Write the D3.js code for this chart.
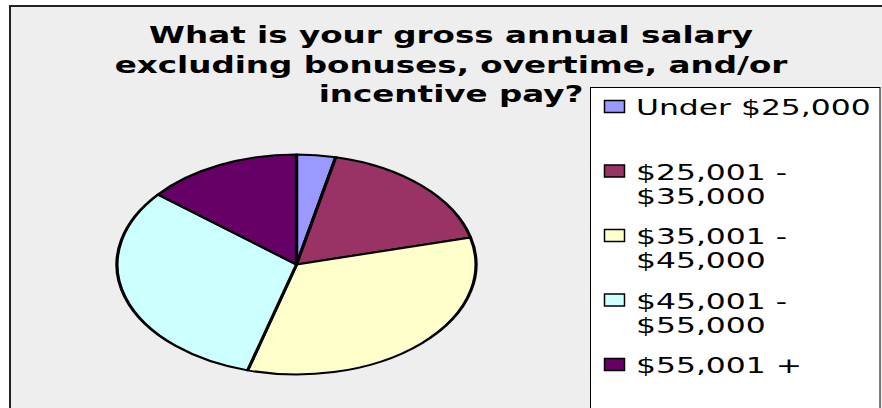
<!DOCTYPE html>
<html>
<head>
<meta charset="utf-8">
<script src="https://cdn.jsdelivr.net/npm/d3@7"></script>
<style>
  html, body { margin: 0; padding: 0; background: #fff; }
  svg { display: block; }
</style>
</head>
<body>
<svg id="chart" width="882" height="408"></svg>
<script>
//
// Data
//
var categories = ['Under $25,000', '$25,001 - $35,000', '$35,001 - $45,000', '$45,001 - $55,000', '$55,001 +']
var counts = [2, 10, 19, 18, 8]
var sliceColors = ['#9999ff', '#993366', '#ffffcc', '#ccffff', '#660066']
var titleLines = ['What is your gross annual salary', 'excluding bonuses, overtime, and/or', 'incentive pay?']

//
// Layout (the source picture is stretched sideways, so is this one)
//
var width = 882, height = 408
var cx = 296.5, cy = 264.5
var ry = 110, rx = 179.5
var titleX = 451, titleY = 43, titleStep = 29.5, titleSize = 23, titleSX = 1.417
var legX = 590.5, legY = 87.5
var legFirst = 115, legStep = 64.5, legLine = 24, legSize = 21, legSX = 1.495

var svg = d3.select('#chart')

// chart frame, cut off at right and bottom like the source
svg.append('rect')
  .attr('x', 10).attr('y', 6)
  .attr('width', 900).attr('height', 500)
  .attr('fill', '#eeeeee')
  .attr('stroke', '#222')
  .attr('stroke-width', 2)

// title
svg.append('g').selectAll('text')
  .data(titleLines)
  .enter().append('text')
    .attr('transform', function (d, i) { return 'translate(' + titleX + ',' + (titleY + i * titleStep) + ') scale(' + titleSX + ',1)' })
    .attr('text-anchor', 'middle')
    .attr('font-family', 'DejaVu Sans, Verdana, sans-serif')
    .attr('font-weight', 'bold')
    .attr('font-size', titleSize)
    .attr('fill', '#000')
    .text(function (d) { return d })

// pie, drawn round then stretched
var pie = d3.pie().sort(null).value(function (d) { return d })
var arc = d3.arc().innerRadius(0).outerRadius(ry)

svg.append('g')
  .attr('transform', 'translate(' + cx + ',' + cy + ') scale(' + (rx / ry) + ',1)')
  .selectAll('path')
  .data(pie(counts))
  .enter().append('path')
    .attr('d', arc)
    .attr('fill', function (d, i) { return sliceColors[i] })
    .attr('stroke', '#000')
    .attr('stroke-width', 2)
    .attr('stroke-linejoin', 'round')

// legend
svg.append('rect')
  .attr('x', legX).attr('y', legY)
  .attr('width', 289.5).attr('height', 400)
  .attr('fill', '#fff')
  .attr('stroke', '#000')
  .attr('stroke-width', 1)

var item = svg.append('g').selectAll('g')
  .data(categories)
  .enter().append('g')
    .attr('transform', function (d, i) { return 'translate(0,' + (legFirst + i * legStep) + ')' })

item.append('rect')
  .attr('x', 604.5).attr('y', -14.5)
  .attr('width', 20).attr('height', 12)
  .attr('fill', function (d, i) { return sliceColors[i] })
  .attr('stroke', '#000')
  .attr('stroke-width', 1.5)

item.each(function (d) {
  var lines = d.replace(' - ', ' -\n').split('\n')
  d3.select(this).selectAll('text')
    .data(lines)
    .enter().append('text')
      .attr('transform', function (t, j) { return 'translate(636,' + (j * legLine) + ') scale(' + legSX + ',1)' })
      .attr('font-family', 'DejaVu Sans, Verdana, sans-serif')
      .attr('font-size', legSize)
      .attr('fill', '#000')
      .text(function (t) { return t })
})
</script>
</body>
</html>
